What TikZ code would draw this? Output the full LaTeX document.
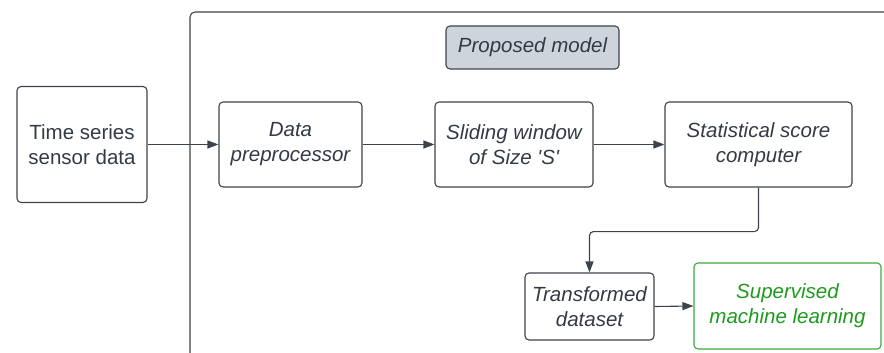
\documentclass[tikz,border=0pt]{standalone}
\usepackage{fontspec}
\setmainfont{Liberation Sans}
\usetikzlibrary{arrows.meta, positioning}
\definecolor{LineGray}{HTML}{3D434C}
\definecolor{TextGray}{HTML}{333A45}
\definecolor{TitleFill}{HTML}{CED4DC}
\definecolor{MLGreen}{HTML}{1E9A1E}
\definecolor{MLBorder}{HTML}{3DA83D}
\tikzset{
  >={Triangle[length=11pt,width=8pt]},
  % Blocchi del diagramma
  block/.style={draw=LineGray,line width=1.1pt,rounded corners=4pt,align=center,
    text=TextGray,font=\fontsize{20.5}{25}\selectfont,inner sep=2pt},
  block model/.style={block,font=\fontsize{20.5}{25}\selectfont\itshape},
  block title/.style={block model,fill=TitleFill},
  block ml/.style={block model,draw=MLBorder,text=MLGreen},
  % Connessioni
  connect arrow/.style={->,line width=1.1pt,LineGray}
}
\begin{document}
\begin{tikzpicture}[x=1pt,y=-1pt]
    \useasboundingbox (0,0) rectangle (884,353);
    % contenitore del modello
    \draw[LineGray,line width=1.1pt,rounded corners=5pt] (190,353)--(190,12)--(884,12);
    \node[block title,minimum width=173,minimum height=43] (title) at (532.5,47.5) {Proposed model};
    \node[block,minimum width=130,minimum height=116] (tsd) at (82,144.5) {Time series\\sensor data};
    \node[block model,minimum width=143,minimum height=85] (dp) at (290.5,144.5) {Data\\preprocessor};
    \node[block model,minimum width=158,minimum height=85] (sw) at (514,144.5) {Sliding window\\of Size \textquotesingle S\textquotesingle};
    \node[block model,minimum width=187,minimum height=85] (ssc) at (758.5,144.5) {Statistical score\\computer};
    \node[block model,minimum width=129,minimum height=67] (td) at (589.5,306.5) {Transformed\\dataset};
    \node[block ml,minimum width=187,minimum height=86] (sml) at (787.5,306) {Supervised\\machine learning};
    \draw[connect arrow] (tsd.east)--(dp.west);
    \draw[connect arrow] (dp.east)--(sw.west);
    \draw[connect arrow] (sw.east)--(ssc.west);
    \draw[connect arrow,rounded corners=4pt] (ssc.south)--++(0,44)-|(td.north);
    \draw[connect arrow] (td.east)--(sml.west);
  \end{tikzpicture}
\end{document}
